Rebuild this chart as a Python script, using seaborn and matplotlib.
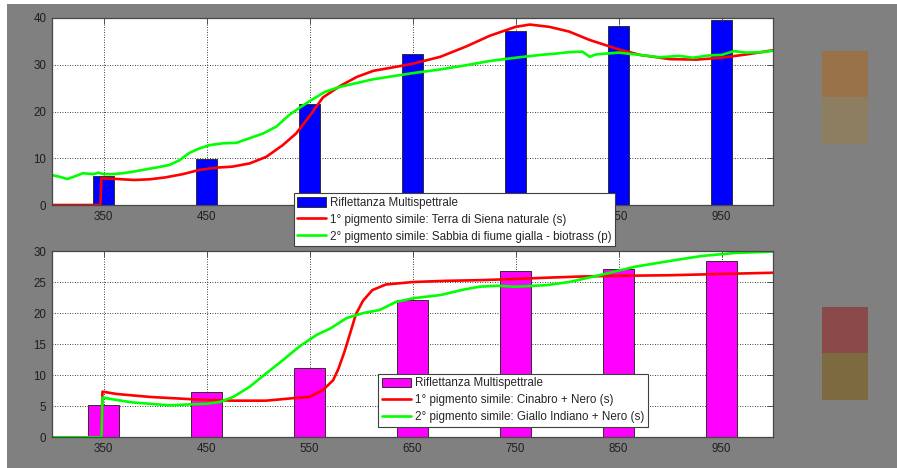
import matplotlib
matplotlib.use("Agg")
import matplotlib.pyplot as plt
from matplotlib.patches import Patch, Rectangle
from matplotlib.lines import Line2D
import numpy as np
import seaborn as sns

sns.set_style("white")
plt.rcParams["font.family"] = ["Liberation Sans", "DejaVu Sans"]

# Multispectral bands (nm) and measured reflectance (%)
band_nm = [350, 450, 550, 650, 750, 850, 950]
refl_top = [6.3, 9.8, 21.7, 32.3, 37.2, 38.3, 39.5]
refl_bottom = [5.2, 7.25, 11.2, 22.1, 26.7, 27.1, 28.4]

# Top panel: reference pigment spectra
top_red_nm = [300, 347, 348, 360, 380, 395, 410, 427, 443, 460, 475, 492, 508, 524,
              537, 550, 563, 580, 596, 612, 630, 650, 677, 702, 725, 750, 764, 783,
              802, 822, 850, 871, 900, 926, 950, 974, 1000]
top_red = [0, 0, 5.7, 5.6, 5.35, 5.5, 5.9, 6.6, 7.5, 8.0, 8.2, 8.9, 10.3, 12.8,
           15.3, 19.0, 23.0, 25.5, 27.4, 28.7, 29.4, 30.2, 31.7, 33.9, 36.2, 38.1, 38.6, 38.1,
           37.1, 35.3, 33.3, 32.1, 31.2, 31.1, 31.5, 32.2, 33.1]
top_green_nm = [300, 307, 315, 323, 330, 340, 345, 350, 359, 369, 378, 388, 401, 414,
                424, 433, 443, 453, 466, 479, 492, 505, 518, 530, 541, 550, 565, 580,
                612, 650, 677, 702, 725, 750, 774, 790, 802, 815, 822, 828, 850, 871,
                890, 909, 922, 938, 950, 962, 974, 990, 1000]
top_green = [6.4, 6.06, 5.56, 6.2, 6.8, 6.6, 6.9, 6.6, 6.6, 6.8, 7.1, 7.5, 8.0, 8.56,
             9.6, 11.1, 12.1, 12.8, 13.2, 13.3, 14.3, 15.3, 16.8, 19.2, 20.9, 22.2, 24.2, 25.3,
             26.9, 28.2, 29.0, 29.9, 30.8, 31.5, 32.1, 32.4, 32.7, 32.8, 31.7, 32.2, 32.6, 32.1,
             31.6, 31.9, 31.5, 32.0, 32.1, 32.9, 32.6, 32.7, 33.0]

# Bottom panel: reference pigment spectra
bot_red_nm = [300, 348, 349, 363, 395, 428, 450, 476, 508, 534, 550, 563, 573, 578,
              584, 589, 595, 602, 611, 624, 650, 683, 715, 750, 780, 815, 850, 900,
              950, 1000]
bot_red = [0, 0, 7.35, 6.97, 6.5, 6.2, 6.0, 5.9, 5.9, 6.3, 6.5, 7.6, 9.2, 11.0,
           13.8, 16.5, 19.8, 22.0, 23.7, 24.6, 25.0, 25.2, 25.3, 25.5, 25.7, 25.9, 26.0, 26.1,
           26.3, 26.5]
bot_green_nm = [300, 348, 349, 363, 379, 395, 414, 434, 450, 463, 476, 492, 508, 524,
                540, 557, 570, 586, 602, 618, 634, 651, 677, 700, 715, 732, 750, 780,
                802, 834, 867, 900, 931, 964, 1000]
bot_green = [0, 0, 6.4, 6.0, 5.6, 5.4, 5.15, 5.3, 5.4, 5.7, 6.5, 8.15, 10.3, 12.4,
             14.6, 16.5, 17.5, 19.2, 20.0, 20.5, 21.8, 22.4, 22.9, 23.8, 24.25, 24.4, 24.25, 24.5,
             25.0, 26.2, 27.5, 28.4, 29.2, 29.7, 29.9]

top_labels = ["Riflettanza Multispettrale",
              "1° pigmento simile: Terra di Siena naturale (s)",
              "2° pigmento simile: Sabbia di fiume gialla - biotrass (p)"]
bot_labels = ["Riflettanza Multispettrale",
              "1° pigmento simile: Cinabro + Nero (s)",
              "2° pigmento simile: Giallo Indiano + Nero (s)"]

# Colour swatches of the two matched pigments (upper = 1st, lower = 2nd)
top_swatch = [(154, 114, 74), (141, 125, 97)]
bot_swatch = [(139, 74, 74), (125, 106, 64)]

W, H = 897, 468
fig = plt.figure(figsize=(W / 100, H / 100), dpi=100, facecolor="white")
fig.patches.append(Rectangle((7 / W, 0), 1 - 7 / W, (H - 4) / H,
                             transform=fig.transFigure, facecolor="#808080",
                             edgecolor="none", zorder=-10))

ax_top = fig.add_axes([52 / W, (H - 205) / H, 721 / W, 187 / H])
ax_bot = fig.add_axes([52 / W, (H - 437.3) / H, 721 / W, 186.3 / H])


def style_axes(ax, ymax, ystep):
    ax.set_xlim(300, 1000)
    ax.set_ylim(0, ymax)
    ax.set_xticks(band_nm)
    ax.set_yticks(np.arange(0, ymax + 0.1, ystep))
    ax.set_xlabel("")
    ax.set_ylabel("")
    ax.set_facecolor("white")
    ax.set_axisbelow(True)
    ax.grid(True, color="black", linestyle=(0, (1, 2)), linewidth=0.6)
    ax.tick_params(direction="in", top=True, right=True, length=4, width=0.6,
                   color="#404040", labelsize=8.3, labelcolor="#1e1e1e", pad=4)
    for s in ax.spines.values():
        s.set_visible(True)
        s.set_color("#474747")
        s.set_linewidth(0.9)


def panel(ax, refl, bar_color, bar_w, red_x, red_y, green_x, green_y, labels,
          ymax, ystep, anchor):
    sns.barplot(x=band_nm, y=refl, native_scale=True, width=bar_w, color=bar_color,
                saturation=1, edgecolor="#303030", linewidth=0.7, ax=ax, errorbar=None)
    sns.lineplot(x=red_x, y=red_y, color="#ff0000", linewidth=1.9, ax=ax)
    sns.lineplot(x=green_x, y=green_y, color="#00ff00", linewidth=1.9, ax=ax)
    style_axes(ax, ymax, ystep)
    handles = [Patch(facecolor=bar_color, edgecolor="#303030", linewidth=0.7),
               Line2D([], [], color="#ff0000", linewidth=1.9),
               Line2D([], [], color="#00ff00", linewidth=1.9)]
    leg = ax.legend(handles, labels, loc="upper left", bbox_to_anchor=anchor,
                    borderaxespad=0, fontsize=8.4, frameon=True, fancybox=False,
                    framealpha=1, borderpad=0.3, labelspacing=0.42,
                    handlelength=2.5, handleheight=0.9, handletextpad=0.35)
    leg.get_frame().set_edgecolor("#404040")
    leg.get_frame().set_linewidth(0.8)


panel(ax_top, refl_top, "#0000ff", 0.2, top_red_nm, top_red, top_green_nm, top_green,
      top_labels, 40, 10, (0.335, 0.063))
panel(ax_bot, refl_bottom, "#ff00ff", 0.3, bot_red_nm, bot_red, bot_green_nm, bot_green,
      bot_labels, 30, 5, (0.4526, 0.34))


def swatch(top_px, colors):
    sax = fig.add_axes([822 / W, (H - top_px - 93) / H, 46 / W, 93 / H])
    img = np.array(colors, dtype=float).reshape(2, 1, 3) / 255.0
    sax.imshow(img, aspect="auto", interpolation="nearest")
    sax.axis("off")


swatch(51, top_swatch)
swatch(307, bot_swatch)

fig.savefig("out.png", dpi=100, facecolor=fig.get_facecolor())
